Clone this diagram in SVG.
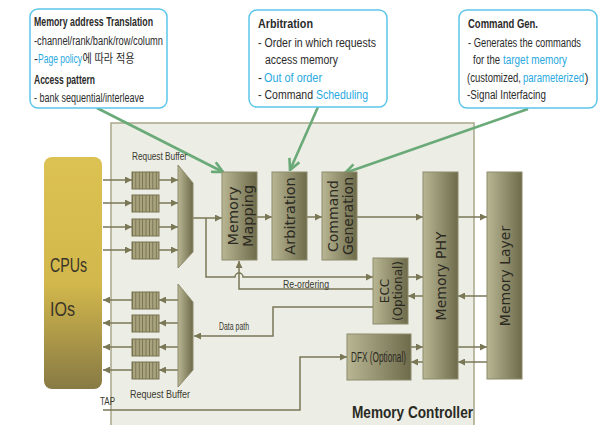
<svg xmlns="http://www.w3.org/2000/svg" width="607" height="425" viewBox="0 0 607 425">
<defs>
<linearGradient id="gbox" x1="0" y1="0" x2="1" y2="0">
<stop offset="0" stop-color="#b9b694"/><stop offset="1" stop-color="#6e6b4b"/>
</linearGradient>
<linearGradient id="gcpu" x1="0" y1="0" x2="0" y2="1">
<stop offset="0" stop-color="#dcc252"/><stop offset="0.55" stop-color="#d2b74c"/><stop offset="1" stop-color="#877a45"/>
</linearGradient>
<pattern id="stripes" width="3.4" height="20" patternUnits="userSpaceOnUse" x="132">
<rect width="3.4" height="20" fill="#a9a47e"/><rect width="0.8" height="20" fill="#6f6b4a"/>
</pattern>
<marker id="ah" viewBox="0 0 8 8" refX="8" refY="4" markerWidth="7" markerHeight="7" markerUnits="userSpaceOnUse" orient="auto">
<path d="M0,0 L8,4 L0,8 Z" fill="#7a7757"/>
</marker>
<marker id="gh" viewBox="0 0 12 12" refX="11" refY="6" markerWidth="13" markerHeight="13" markerUnits="userSpaceOnUse" orient="auto">
<path d="M1,1 L11,6 L1,11" fill="none" stroke="#6aaa78" stroke-width="2.4"/>
</marker>
</defs>
<style>
.ln{fill:none;stroke:#7a7757;stroke-width:1.5}
.ar{marker-end:url(#ah)}
.box{fill:url(#gbox);stroke:#8e8b6c;stroke-width:1}
.bt{font-family:"DejaVu Sans",sans-serif;fill:#2b2a22;text-anchor:middle}
.buf{fill:url(#stripes);stroke:#77734f;stroke-width:1}
.cl{fill:#fff;stroke:#5cc6ea;stroke-width:1.5}
.ct{font-family:"Liberation Sans","Noto Sans CJK KR",sans-serif;font-size:12px;fill:#2b2b2b}
.b{font-weight:bold}
.blue{fill:#29a9e0}
.green{fill:none;stroke:#6aaa78;stroke-width:2.6;marker-end:url(#gh)}
.lbl{font-family:"Liberation Sans",sans-serif;font-size:11px;fill:#3a3a30}
</style>

<rect id="controller" x="111" y="123" width="363" height="310" fill="#ecede4" stroke="#a9a68b" stroke-width="1.5"/>
<text x="473" y="418" text-anchor="end" font-family="Liberation Sans, sans-serif" font-weight="bold" font-size="17" fill="#2a2a24" textLength="121" lengthAdjust="spacingAndGlyphs">Memory Controller</text>

<g id="cpus">
<rect x="44" y="157" width="58" height="232" rx="8" fill="url(#gcpu)"/>
<text x="50" y="272" font-family="Liberation Sans, sans-serif" font-size="21" fill="#3a3528" textLength="37" lengthAdjust="spacingAndGlyphs">CPUs</text>
<text x="50" y="316" font-family="Liberation Sans, sans-serif" font-size="21" fill="#3a3528" textLength="25" lengthAdjust="spacingAndGlyphs">IOs</text>
</g>

<g id="connectors">
<path class="ln ar" d="M103,180 H132"/><path class="ln ar" d="M103,203 H132"/><path class="ln ar" d="M103,227 H132"/><path class="ln ar" d="M103,250 H132"/>
<path class="ln ar" d="M159,180 H178"/><path class="ln ar" d="M159,203 H178"/><path class="ln ar" d="M159,227 H178"/><path class="ln ar" d="M159,250 H178"/>
<path class="ln ar" d="M178,300 H159"/><path class="ln ar" d="M178,323 H159"/><path class="ln ar" d="M178,347 H159"/><path class="ln ar" d="M178,370 H159"/>
<path class="ln ar" d="M132,300 H103"/><path class="ln ar" d="M132,323 H103"/><path class="ln ar" d="M132,347 H103"/><path class="ln ar" d="M132,370 H103"/>
<path class="ln ar" d="M193,218 H222"/>
<path class="ln ar" d="M206,218 V277 H235 A4,4 0 0 1 243,277 H373"/>
<path class="ln ar" d="M373,289 H239 V261"/>
<path class="ln ar" d="M373,307 H273 V336 H194"/>
<path class="ln ar" d="M103,410 H300 V357 H347"/>
<path class="ln ar" d="M257,217 H272"/>
<path class="ln ar" d="M307,217 H322"/>
<path class="ln ar" d="M357,217 H423"/>
<path class="ln ar" d="M458,217 H487"/>
<path class="ln ar" d="M408,277 H423"/>
<path class="ln ar" d="M423,296 H408"/>
<path class="ln ar" d="M487,296 H458"/>
<path class="ln ar" d="M411,347 H423"/>
<path class="ln ar" d="M423,362 H411"/>
<path class="ln ar" d="M458,347 H487"/>
<path class="ln ar" d="M487,362 H458"/>
<path class="green" d="M97,108 L223,172"/>
<path class="green" d="M318,107 L290,170"/>
<path class="green" d="M528,109 L345,173"/>
<text class="lbl" x="283" y="288" textLength="46" lengthAdjust="spacingAndGlyphs">Re-ordering</text>
<text class="lbl" x="219" y="330" textLength="30" lengthAdjust="spacingAndGlyphs">Data path</text>
<text class="lbl" x="100" y="405" textLength="15" lengthAdjust="spacingAndGlyphs">TAP</text>
</g>

<g id="request-buffer-in">
<text class="lbl" x="132" y="160" textLength="55" lengthAdjust="spacingAndGlyphs">Request Buffer</text>
<rect class="buf" x="132" y="172" width="27" height="17"/>
<rect class="buf" x="132" y="195" width="27" height="17"/>
<rect class="buf" x="132" y="219" width="27" height="17"/>
<rect class="buf" x="132" y="242" width="27" height="17"/>
<polygon points="178,165 193,183 193,252 178,268" fill="url(#gbox)" stroke="#8e8b6c"/>
</g>

<g id="request-buffer-out">
<rect class="buf" x="132" y="292" width="27" height="17"/>
<rect class="buf" x="132" y="315" width="27" height="17"/>
<rect class="buf" x="132" y="339" width="27" height="17"/>
<rect class="buf" x="132" y="362" width="27" height="17"/>
<polygon points="178,284 193,302 193,370 178,387" fill="url(#gbox)" stroke="#8e8b6c"/>
<text class="lbl" x="130" y="398" textLength="60" lengthAdjust="spacingAndGlyphs">Request Buffer</text>
</g>

<g id="memory-mapping">
<rect class="box" x="222" y="172" width="35" height="88"/>
<g transform="translate(239.5,216) rotate(-90)"><text class="bt" font-size="14.5" y="-2">Memory</text><text class="bt" font-size="14.5" y="13">Mapping</text></g>
</g>
<g id="arbitration">
<rect class="box" x="272" y="172" width="35" height="88"/>
<text class="bt" font-size="14.5" transform="translate(289.5,216) rotate(-90)" y="5">Arbitration</text>
</g>
<g id="command-generation">
<rect class="box" x="322" y="172" width="35" height="88"/>
<g transform="translate(339.5,216) rotate(-90)"><text class="bt" font-size="14" y="-2">Command</text><text class="bt" font-size="14" y="13">Generation</text></g>
</g>
<g id="memory-phy">
<rect class="box" x="423" y="172" width="35" height="207"/>
<text class="bt" font-size="14" transform="translate(440.5,276) rotate(-90)" y="5">Memory PHY</text>
</g>
<g id="memory-layer">
<rect class="box" x="487" y="172" width="35" height="207"/>
<text class="bt" font-size="14" transform="translate(504.5,276) rotate(-90)" y="5">Memory Layer</text>
</g>
<g id="ecc">
<rect class="box" x="373" y="258" width="35" height="66"/>
<g transform="translate(390.5,291) rotate(-90)"><text class="bt" font-size="12" y="-2">ECC</text><text class="bt" font-size="12" y="11">(Optional)</text></g>
</g>
<g id="dfx">
<rect class="box" x="347" y="334" width="64" height="46"/>
<text x="351" y="362" font-family="Liberation Sans, sans-serif" font-size="14" fill="#2b2a22" textLength="55" lengthAdjust="spacingAndGlyphs">DFX (Optional)</text>
</g>

<g id="callout-translation">
<rect class="cl" x="30" y="9" width="137" height="99" rx="8"/>
<text class="ct b" x="34" y="26" textLength="119" lengthAdjust="spacingAndGlyphs">Memory address Translation</text>
<text class="ct" x="34" y="45" textLength="129" lengthAdjust="spacingAndGlyphs">-channel/rank/bank/row/column</text>
<text class="ct" x="34" y="63">-</text>
<text class="ct blue" x="38" y="63" textLength="44" lengthAdjust="spacingAndGlyphs">Page policy</text>
<text class="ct" x="82.5" y="63" textLength="52" lengthAdjust="spacingAndGlyphs">에 따라 적용</text>
<text class="ct b" x="34" y="84" textLength="61" lengthAdjust="spacingAndGlyphs">Access pattern</text>
<text class="ct" x="34" y="102" textLength="110" lengthAdjust="spacingAndGlyphs">- bank sequential/interleave</text>
</g>
<g id="callout-arbitration">
<rect class="cl" x="249" y="10" width="138" height="97" rx="8"/>
<text class="ct b" x="258" y="28" textLength="55" lengthAdjust="spacingAndGlyphs">Arbitration</text>
<text class="ct" x="258" y="47" textLength="118" lengthAdjust="spacingAndGlyphs">- Order in which requests</text>
<text class="ct" x="265" y="64" textLength="73" lengthAdjust="spacingAndGlyphs">access memory</text>
<text class="ct" x="258" y="82">-</text>
<text class="ct blue" x="264" y="82" textLength="58" lengthAdjust="spacingAndGlyphs">Out of order</text>
<text class="ct" x="258" y="99" textLength="55" lengthAdjust="spacingAndGlyphs">- Command</text>
<text class="ct blue" x="316" y="99" textLength="52" lengthAdjust="spacingAndGlyphs">Scheduling</text>
</g>
<g id="callout-command">
<rect class="cl" x="459" y="10" width="138" height="98" rx="8"/>
<text class="ct b" x="468" y="28" textLength="70" lengthAdjust="spacingAndGlyphs">Command Gen.</text>
<text class="ct" x="468" y="47" textLength="113" lengthAdjust="spacingAndGlyphs">- Generates the commands</text>
<text class="ct" x="473" y="64" textLength="27" lengthAdjust="spacingAndGlyphs">for the</text>
<text class="ct blue" x="503" y="64" textLength="64" lengthAdjust="spacingAndGlyphs">target memory</text>
<text class="ct" x="467" y="82" textLength="54" lengthAdjust="spacingAndGlyphs">(customized,</text>
<text class="ct blue" x="523" y="82" textLength="61" lengthAdjust="spacingAndGlyphs">parameterized</text>
<text class="ct" x="584.5" y="82">)</text>
<text class="ct" x="467" y="99" textLength="79" lengthAdjust="spacingAndGlyphs">-Signal Interfacing</text>
</g>
</svg>
